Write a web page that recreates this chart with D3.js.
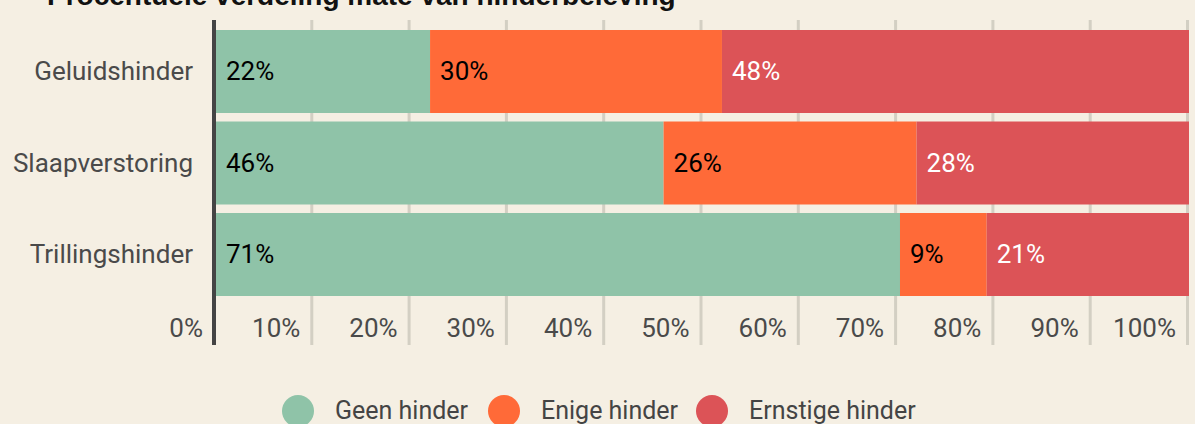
<!DOCTYPE html>
<html>
<head>
<meta charset="utf-8">
<script src="https://cdn.jsdelivr.net/npm/d3@7"></script>
<style>
  body { margin: 0; background: #f5efe3; }
  svg { display: block; font-family: Roboto, sans-serif; }
</style>
</head>
<body>
<svg width="1195" height="424"></svg>
<script>
var categories = ["Geluidshinder", "Slaapverstoring", "Trillingshinder"];
var geen = [22, 46, 71];
var enige = [30, 26, 9];
var ernstig = [48, 28, 21];
var series = ["Geen hinder", "Enige hinder", "Ernstige hinder"];
var colors = ["#8fc3a8", "#ff6a38", "#dc5357"];
var labelColors = ["#000", "#000", "#fff"];
var ticks = [0, 0.1, 0.2, 0.3, 0.4, 0.5, 0.6, 0.7, 0.8, 0.9, 1];

var rows = [];
for (var i = 0; i < categories.length; i++) {
  rows.push({cat: categories[i], "Geen hinder": geen[i], "Enige hinder": enige[i], "Ernstige hinder": ernstig[i]});
}

var svg = d3.select("svg");
svg.append("rect").attr("width", 1195).attr("height", 424).attr("fill", "#f5efe3");

var x = d3.scaleLinear().domain([0, 1]).range([216, 1189]);
var y = d3.scaleBand().domain(categories).range([30, 296]).paddingInner(0.093);

// gridlines
svg.append("g").selectAll("line").data(ticks.slice(1)).enter().append("line")
  .attr("x1", function(d){ return x(d) - 1.5; }).attr("x2", function(d){ return x(d) - 1.5; })
  .attr("y1", 20).attr("y2", 345)
  .attr("stroke", "#d3cfc3").attr("stroke-width", 3);

// tick labels
svg.append("g").selectAll("text").data(ticks).enter().append("text")
  .attr("x", function(d){ return x(d) - 13; })
  .attr("y", 337)
  .attr("text-anchor", "end")
  .attr("fill", "#4a4a4a")
  .style("font-size", "26px")
  .text(d3.format(".0%"));

var stack = d3.stack().keys(series).offset(d3.stackOffsetExpand)(rows);

var layers = svg.append("g").selectAll("g").data(stack).enter().append("g");
layers.selectAll("rect").data(function(d){ return d; }).enter().append("rect")
  .attr("x", function(d){ return x(d[0]); })
  .attr("width", function(d){ return x(d[1]) - x(d[0]); })
  .attr("y", function(d){ return y(d.data.cat); })
  .attr("height", y.bandwidth())
  .attr("fill", function(d){ return colors[series.indexOf(d3.select(this.parentNode).datum().key)]; });

layers.each(function(s, si){
  d3.select(this).selectAll("text").data(s).enter().append("text")
    .attr("x", function(d){ return x(d[0]) + 10; })
    .attr("y", function(d){ return y(d.data.cat) + y.bandwidth() / 2; })
    .attr("dy", "0.33em")
    .attr("fill", labelColors[si])
    .style("font-size", "26px")
    .text(function(d){ return d.data[s.key] + "%"; });
});

// axis line
svg.append("line").attr("x1", 214).attr("x2", 214).attr("y1", 20).attr("y2", 345)
  .attr("stroke", "#444").attr("stroke-width", 4);

// category labels
var yAxis = d3.axisLeft(y).tickSize(0).tickPadding(0);
var ga = svg.append("g").attr("transform", "translate(193,0)").call(yAxis);
ga.select(".domain").remove();
ga.selectAll("text").attr("fill", "#4a4a4a").style("font-size", "26px").style("font-family", "Roboto, sans-serif").attr("dy", "0.33em");

// title
svg.append("text").attr("x", 47).attr("y", 5)
  .style("font-family", "'Liberation Sans', Arial, sans-serif")
  .style("font-weight", "bold").style("font-size", "28px").attr("fill", "#111")
  .text("Procentuele verdeling mate van hinderbeleving");

// legend
var legX = [298, 504, 712];
var leg = svg.append("g").selectAll("g").data(series).enter().append("g")
  .attr("transform", function(d, i){ return "translate(" + legX[i] + ",411)"; });
leg.append("circle").attr("r", 16).attr("fill", function(d, i){ return colors[i]; });
leg.append("text").attr("x", 37).attr("y", 7.5).attr("fill", "#444").style("font-size", "25px").text(function(d){ return d; });
</script>
</body>
</html>
